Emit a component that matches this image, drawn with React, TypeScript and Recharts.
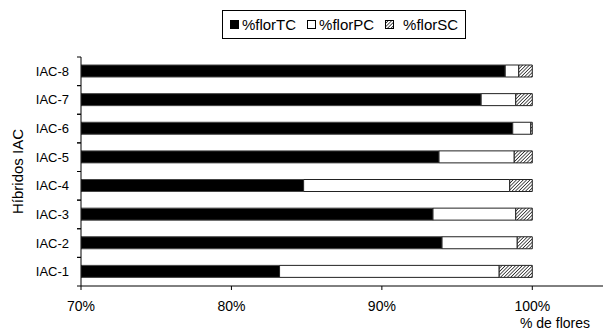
import { BarChart, Bar, XAxis, YAxis } from "recharts";

document.body.style.margin = "0";

const categories = ["IAC-1", "IAC-2", "IAC-3", "IAC-4", "IAC-5", "IAC-6", "IAC-7", "IAC-8"];
const florTC = [83.2, 94.0, 93.4, 84.8, 93.8, 98.7, 96.6, 98.2];
const florPC = [14.6, 5.0, 5.5, 13.7, 5.0, 1.2, 2.3, 0.9];
const florSC = [2.2, 1.0, 1.1, 1.5, 1.2, 0.1, 1.1, 0.9];
const seriesNames = ["%florTC", "%florPC", "%florSC"];
const xTicks = [70, 80, 90, 100];

const FONT = "'Liberation Sans', Arial, sans-serif";
const fills = ["#000", "#fff", "url(#hatch)"];

const data = categories.map((name, i) => ({
  name,
  tc: florTC[i],
  pc: florPC[i],
  sc: florSC[i],
}));

// category tick: label + small tick marks on the band edges (Excel style)
function CatTick(props: any) {
  const { x, y, payload, height, visibleTicksCount } = props;
  const band = height / visibleTicksCount;
  const axisX = x + 12;
  return (
    <g>
      <text x={x} y={y} dy="0.35em" textAnchor="end" fontSize={13} fontFamily={FONT} fill="#000">
        {payload.value}
      </text>
      <line x1={axisX - 4} x2={axisX} y1={y - band / 2} y2={y - band / 2} stroke="#000" />
      <line x1={axisX - 4} x2={axisX} y1={y + band / 2} y2={y + band / 2} stroke="#000" />
    </g>
  );
}

function LegendBox() {
  return (
    <div
      style={{
        position: "absolute",
        left: 222,
        top: 10,
        width: 242,
        height: 27,
        border: "1px solid #000",
        display: "flex",
        alignItems: "center",
        justifyContent: "center",
        fontFamily: FONT,
        fontSize: 15,
        boxSizing: "content-box",
      }}
    >
      {seriesNames.map((n, i) => (
        <div key={n} style={{ display: "flex", alignItems: "center", marginLeft: i ? 11 : 0 }}>
          <svg width={9} height={9} style={{ marginRight: i === 2 ? 9 : 3 }}>
            <rect x={0.5} y={0.5} width={8} height={8} fill={fills[i]} stroke="#000" />
          </svg>
          <span>{n}</span>
        </div>
      ))}
    </div>
  );
}

export default function App() {
  return (
    <div style={{ position: "relative", width: 603, height: 334, background: "#fff" }}>
      <LegendBox />
      <BarChart
        width={603}
        height={334}
        data={data}
        layout="vertical"
        margin={{ top: 57, right: 0, bottom: 0, left: 0 }}
        barSize={12}
      >
        <defs>
          <pattern id="hatch" patternUnits="userSpaceOnUse" width={2.4} height={2.4} patternTransform="rotate(45)">
            <rect width={2.4} height={2.4} fill="#fff" />
            <line x1={0} y1={0} x2={0} y2={2.4} stroke="#000" strokeWidth={1.3} />
          </pattern>
        </defs>
        <XAxis
          type="number"
          domain={[70, 104.7]}
          allowDataOverflow
          ticks={xTicks}
          tickFormatter={(v) => v + "%"}
          height={48}
          tickSize={4}
          tickMargin={11}
          stroke="#000"
          tick={{ fontSize: 14, fontFamily: FONT, fill: "#000" }}
          label={{
            content: (p: any) => (
              <text
                x={p.viewBox.x + p.viewBox.width - 13}
                y={p.viewBox.y + 42}
                textAnchor="end"
                fontSize={14}
                fontFamily={FONT}
                fill="#000"
              >
                % de flores
              </text>
            ),
          }}
        />
        <YAxis
          type="category"
          dataKey="name"
          reversed
          width={81}
          tickLine={false}
          tickSize={4}
          tickMargin={8}
          stroke="#000"
          tick={<CatTick />}
          label={{
            content: (p: any) => (
              <text
                transform={`translate(23, ${p.viewBox.y + p.viewBox.height / 2}) rotate(-90)`}
                textAnchor="middle"
                fontSize={15}
                fontFamily={FONT}
                fill="#000"
              >
                Híbridos IAC
              </text>
            ),
          }}
        />
        <Bar dataKey="tc" name={seriesNames[0]} stackId="a" fill={fills[0]} stroke="#444" isAnimationActive={false} />
        <Bar dataKey="pc" name={seriesNames[1]} stackId="a" fill={fills[1]} stroke="#222" isAnimationActive={false} />
        <Bar dataKey="sc" name={seriesNames[2]} stackId="a" fill={fills[2]} stroke="#222" isAnimationActive={false} />
      </BarChart>
    </div>
  );
}
